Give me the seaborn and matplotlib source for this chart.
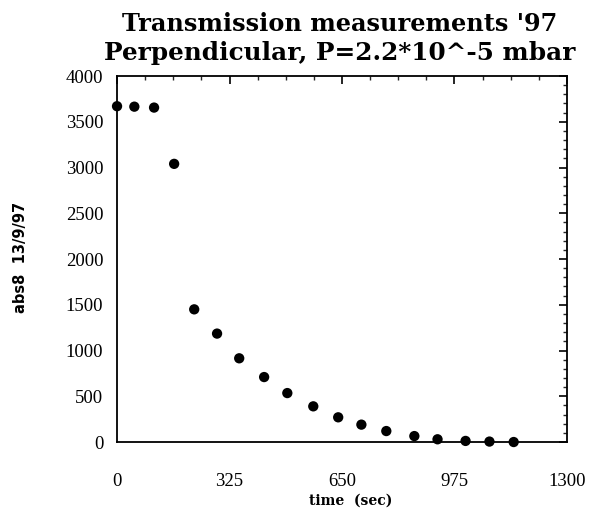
import matplotlib
matplotlib.use("Agg")
import matplotlib.pyplot as plt
import seaborn as sns
import pandas as pd
from matplotlib.ticker import MultipleLocator

time_sec = [0, 50, 107, 165, 223, 289, 353, 425, 492, 567, 639, 706, 778, 859, 926, 1007, 1076, 1146]
abs8 = [3670, 3665, 3655, 3040, 1450, 1185, 915, 710, 535, 390, 270, 190, 120, 65, 30, 12, 5, 0]
x_ticks = [0, 325, 650, 975, 1300]
y_ticks = [0, 500, 1000, 1500, 2000, 2500, 3000, 3500, 4000]

sns.set_style("white")
plt.rcParams['font.family'] = ['Liberation Serif', 'DejaVu Serif']
plt.rcParams['text.color'] = 'black'
plt.rcParams['axes.labelcolor'] = 'black'

df = pd.DataFrame({"time": time_sec, "abs8": abs8})

fig = plt.figure(figsize=(5.89, 5.15), dpi=100)
ax = fig.add_axes([0.1987, 0.1417, 0.7639, 0.7107])
sns.scatterplot(data=df, x="time", y="abs8", ax=ax, color="black", s=55,
                edgecolor="none", clip_on=False, zorder=5)

ax.set_xlim(0, 1300)
ax.set_ylim(0, 4000)
ax.set_xticks(x_ticks)
ax.set_xticklabels([str(v) for v in x_ticks])
ax.set_yticks(y_ticks)
ax.set_yticklabels([str(v) for v in y_ticks])
ax.xaxis.set_minor_locator(MultipleLocator(81.25))
ax.yaxis.set_minor_locator(MultipleLocator(100))

for sp in ax.spines.values():
    sp.set_color("black")
    sp.set_linewidth(1.3)

ax.tick_params(axis="both", which="major", direction="in", length=6, width=1.2,
               top=True, right=True, labelsize=13.5, colors="black")
ax.tick_params(axis="both", which="minor", direction="in", length=3, width=1.0,
               top=True, right=True)
ax.tick_params(axis="x", which="major", pad=22)
ax.tick_params(axis="y", which="major", pad=10)

ax.set_xlabel("time  (sec)", fontsize=10, fontweight="bold",
              family=["DejaVu Serif"], labelpad=4)
ax.xaxis.set_label_coords(0.5 + 9 / 450, -0.14)
ax.set_ylabel("abs8  13/9/97", fontsize=10.5, fontweight="bold",
              family=["DejaVu Sans"], labelpad=0)
ax.yaxis.set_label_coords(-89 / 450, 0.503)

fig.text(0.577, 0.953, "Transmission measurements '97", ha="center", va="center",
         fontsize=17.3, fontweight="bold", family=["DejaVu Serif"])
fig.text(0.577, 0.897, "Perpendicular, P=2.2*10^-5 mbar", ha="center", va="center",
         fontsize=17.8, fontweight="bold", family=["DejaVu Serif"])

fig.savefig("out.png", dpi=100)
